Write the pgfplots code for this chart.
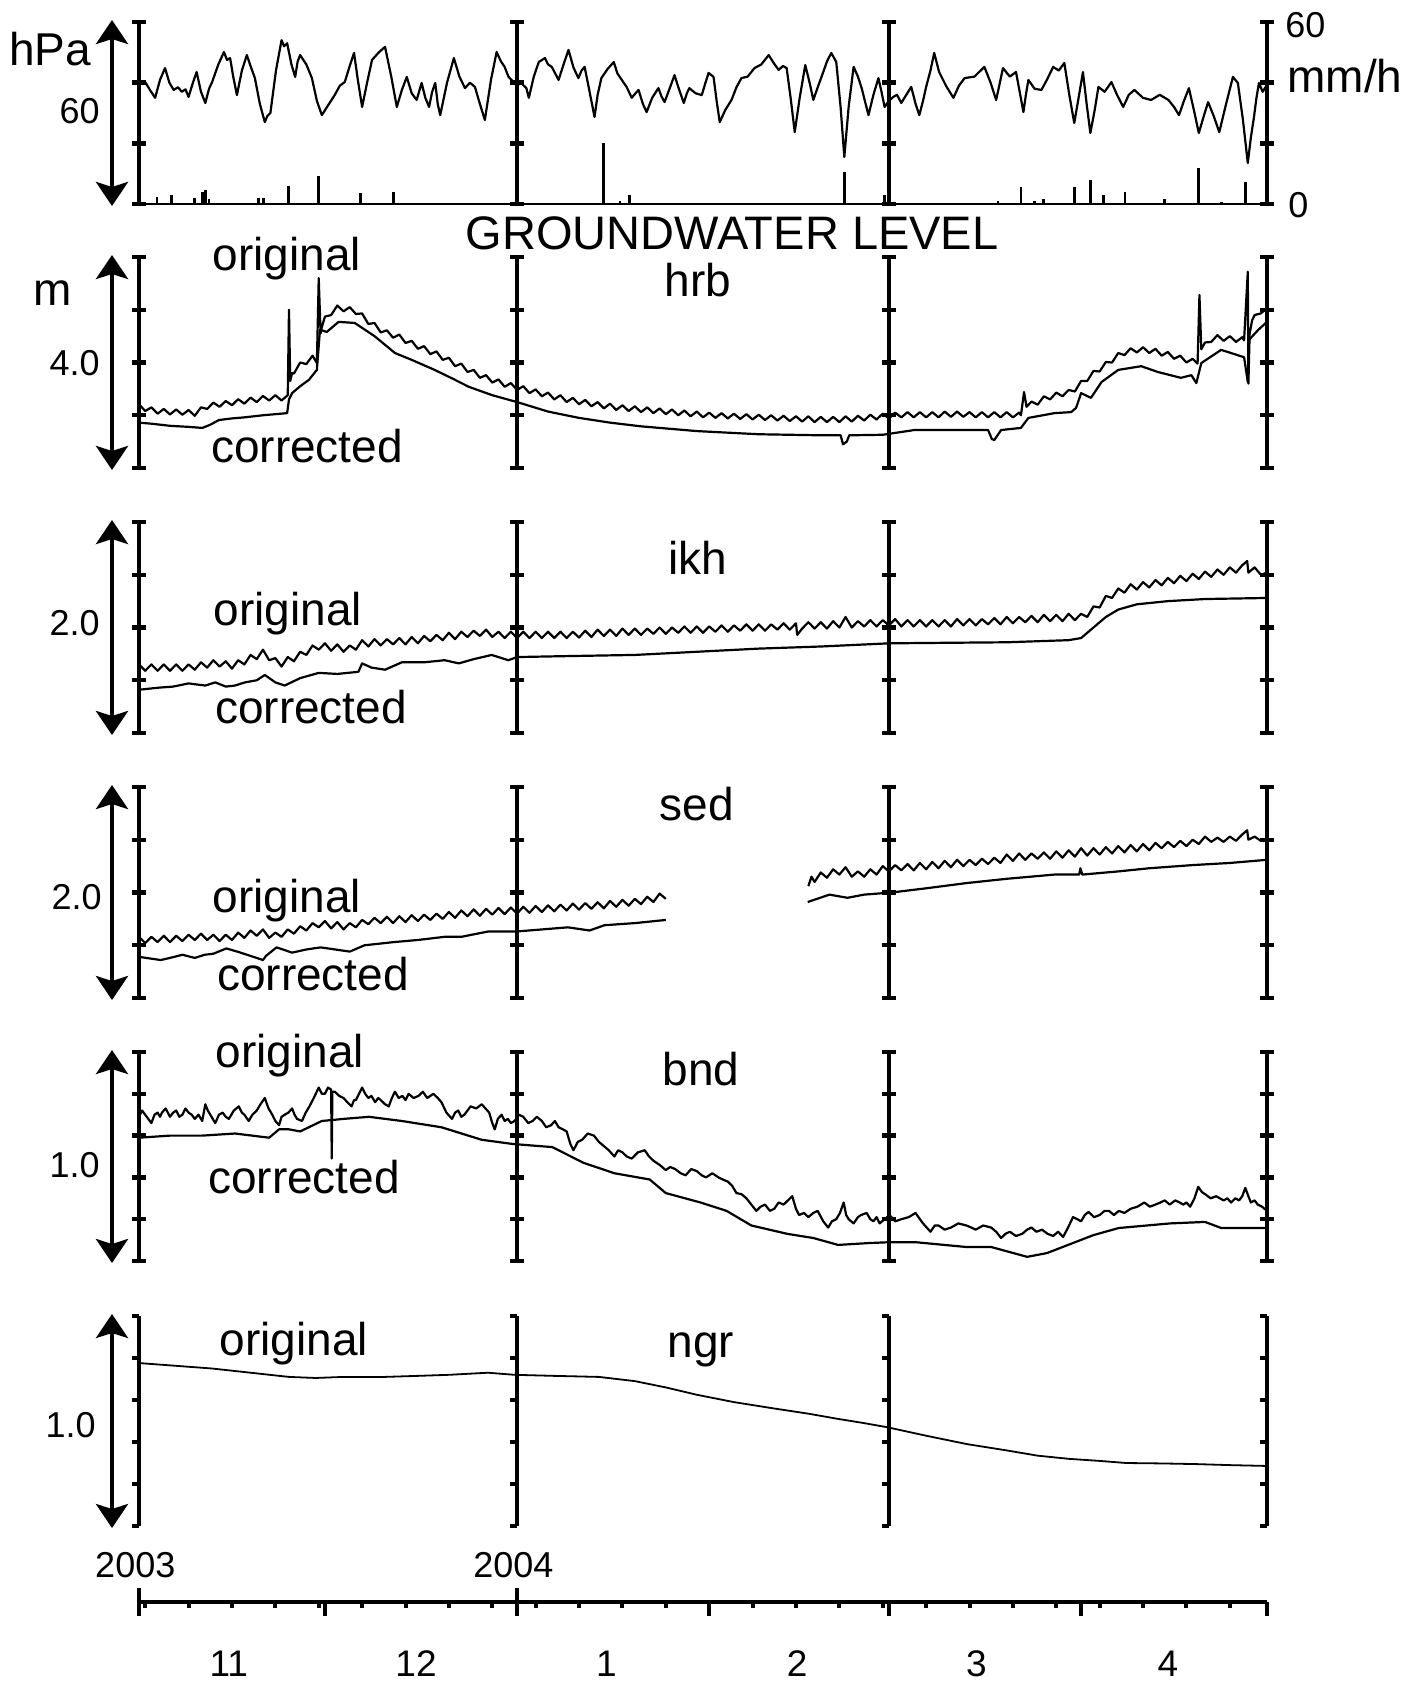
\documentclass[border=0pt]{standalone}
\usepackage{pgfplots}
\pgfplotsset{compat=1.18}
\usepackage{fontspec}
\setmainfont{Liberation Sans}
\usetikzlibrary{arrows.meta}
\newcommand\fA{\fontsize{23}{26}\selectfont}
\newcommand\fN{\fontsize{18}{20}\selectfont}
\newcommand\fT{\fontsize{23.5}{27}\selectfont}
\newcommand\fM{\fontsize{18.5}{21}\selectfont}
\tikzset{
  frm/.style={line width=2.2pt, black},
  ser/.style={line width=1.1pt, black, mark=none, line join=round},
  dbl/.style={line width=2pt, black, {Stealth[length=12pt,width=16pt,inset=2.5pt]}-{Stealth[length=12pt,width=16pt,inset=2.5pt]}},
}
\pgfplotsset{
  panel/.style={scale only axis, width=564pt, xmin=0, xmax=182, anchor=south west,
    axis x line=none, axis y line=box, ytick pos=both, yticklabels={},
    tick align=center, major tick length=7pt,
    axis line style={line width=2.2pt},
    every tick/.append style={line width=2.2pt, black},
    clip mode=individual},
}
\newcommand\midframes[3]{%
  \draw[frm] (axis cs:61,#1) -- (axis cs:61,#2);
  \draw[frm] (axis cs:121,#1) -- (axis cs:121,#2);
  \pgfplotsinvokeforeach{#3}{%
    \draw[frm] (axis cs:61,##1) ++(-3.5pt,0pt) -- ++(7pt,0pt);
    \draw[frm] (axis cs:121,##1) ++(-3.5pt,0pt) -- ++(7pt,0pt);
  }}
\newcommand\bracketframe[1]{%
  \draw[frm] (axis cs:#1,0) -- (axis cs:#1,1);
  \pgfplotsinvokeforeach{0,0.2,0.4,0.6,0.8,1}{%
    \draw[frm] (axis cs:#1,##1) -- ++(-3.5pt,0pt);
  }}
\newcommand\dblarrow{\draw[dbl] ([xshift=-13.5pt,yshift=-1pt]rel axis cs:0,0) -- ([xshift=-13.5pt,yshift=1pt]rel axis cs:0,1);}
\begin{document}
\begin{tikzpicture}
\path[use as bounding box] (0pt,0pt) rectangle (712pt,-841.5pt);

% ---------------- Panel 1: pressure and rainfall
\begin{axis}[panel, at={(69.5pt,-102pt)}, height=91pt, ymin=980, ymax=1040, ytick={980,1000,1020,1040}]
\addplot[ser] coordinates {(0,1021) (0.5,1019.5) (1,1020.2) (1.8,1017.5) (2.6,1015) (3.4,1021) (4.2,1024.8) (4.9,1020) (5.6,1017.6) (6.3,1018.5) (6.9,1017) (7.5,1017.8) (8,1015.3) (8.7,1020) (9.3,1023.5) (10,1017) (10.7,1013.3) (11.3,1018) (11.8,1020.2) (12.8,1026) (13.7,1030.1) (14.2,1027.5) (14.7,1028.1) (15.2,1022) (15.8,1015.9) (16.6,1024) (17.4,1029.1) (18,1025.5) (18.7,1021.5) (19.5,1013) (20.3,1007) (20.7,1009) (21.2,1010) (22.1,1024) (23,1034) (23.4,1032) (23.9,1033) (24.6,1026) (25.2,1021.9) (25.6,1027) (26,1029.1) (27,1026) (27.9,1021.5) (28.7,1014) (29.5,1009.3) (30.5,1012.5) (31.6,1016) (32.4,1019) (33.2,1020.2) (34,1025.5) (34.7,1029.8) (35.3,1021) (36,1012) (36.8,1020) (37.6,1027.5) (38.7,1030) (39.7,1031.8) (40.7,1022) (41.6,1012) (42.4,1017.5) (43.2,1021.9) (44,1016.5) (44.8,1014.3) (45.6,1019.9) (46.2,1015) (46.8,1012) (47.3,1017) (47.8,1019.9) (48.2,1013) (48.6,1009.3) (49.7,1020) (50.8,1028.1) (51.7,1022) (52.6,1018.2) (53.4,1020) (54.2,1018.6) (55,1013) (55.8,1007.7) (56.8,1021) (57.7,1030.1) (58.4,1027) (59,1025.2) (59.6,1022) (60.1,1020.9) (60.9,1019.2) (61.7,1019.8) (62.5,1018.2) (62.9,1015) (63.7,1022) (64.5,1026.8) (65.5,1028.1) (66,1026) (66.6,1025.2) (67.7,1020.9) (68.5,1026) (69.3,1030.8) (70.1,1025) (70.9,1021.5) (71.4,1024) (71.9,1025.2) (72.7,1017) (73.5,1008.7) (74,1016) (74.6,1021.5) (75.6,1024.5) (76.6,1026.8) (77.2,1023) (77.9,1020.9) (78.7,1018.5) (79.5,1015) (80.1,1016.5) (80.6,1017.6) (81.3,1013) (81.9,1010.3) (82.8,1015) (83.8,1018.2) (84.3,1015.5) (84.8,1013.6) (85.6,1018) (86.4,1022.5) (87.1,1018) (87.9,1013.3) (88.4,1016.5) (88.8,1018.2) (89.8,1016.5) (90.8,1015.9) (91.4,1020) (91.9,1023.2) (92.7,1021.9) (93.2,1014) (93.7,1007) (94.6,1011) (95.6,1014.3) (96.4,1018.5) (97.2,1021.5) (98.2,1022) (99.3,1024.8) (100.4,1026) (101.6,1029.1) (102.4,1026.5) (103.2,1024.2) (103.9,1025.5) (104.5,1024.8) (105.2,1014) (105.8,1003.7) (106.6,1015) (107.5,1025.8) (108.2,1020) (108.8,1014.3) (109.6,1019) (110.4,1023.5) (111,1027) (111.7,1029.8) (112.5,1026.8) (113.2,1012) (113.8,995.5) (114.5,1012) (115.3,1025.2) (116,1022) (116.6,1018.2) (117.7,1009.3) (118.5,1016) (119.3,1021.5) (119.8,1017) (120.3,1012) (121,1014) (121.7,1015.3) (122.3,1016) (123,1013.3) (123.8,1016) (124.6,1018.6) (125.3,1013) (125.9,1009.3) (126.5,1014) (127,1018.6) (127.7,1024) (128.3,1029.8) (129.1,1023.5) (130.2,1019) (131.4,1015) (132.3,1019) (133.2,1021.5) (134.8,1022) (136.4,1025.2) (137.4,1020) (138.3,1014.3) (138.9,1020) (139.4,1024.8) (140.5,1022) (141.5,1023.5) (142.1,1017) (142.7,1010.3) (143.1,1016) (143.5,1020.9) (144.5,1018) (145.6,1017.6) (146.5,1021) (147.5,1025.2) (148.4,1024) (149.3,1026.5) (150.1,1016) (150.9,1006.7) (151.6,1015) (152.3,1023.5) (152.9,1013) (153.5,1003.4) (154.2,1011) (154.8,1018.6) (155.8,1017) (156.9,1020.2) (157.8,1016) (158.8,1012) (159.7,1016) (160.6,1017.6) (162,1015) (163.3,1014.3) (164.7,1016) (166.1,1014.3) (167,1012) (167.8,1009.3) (168.6,1014) (169.4,1018.2) (170.2,1011) (171,1003.4) (171.8,1009) (172.5,1013.6) (173.4,1009) (174.3,1003.7) (175.4,1013) (176.5,1021.9) (177.3,1019.9) (178.1,1008) (178.9,993.5) (179.4,1002) (179.9,1008.7) (180.3,1015) (180.7,1019.9) (181.3,1017) (181.8,1018.6)};
\midframes{980}{1040}{980,1000,1020,1040}
\dblarrow
\end{axis}
\begin{axis}[scale only axis, width=564pt, height=91pt, at={(69.5pt,-102pt)}, anchor=south west,
  xmin=0, xmax=182, ymin=0, ymax=60, axis lines=none, clip=false]
\addplot[black, line width=0.9pt, mark=none] coordinates {(0,0) (182,0)};
\addplot[ycomb, black, line width=1.4pt, mark=none] coordinates {(2.9,2.3) (5.3,3) (8.9,2) (10.2,4) (10.7,4.6) (11.3,1.5) (19.3,2) (20.1,2) (24.1,6) (29,9.2) (35.7,3.6) (41.1,4) (74.9,20.1) (77.6,1) (79.2,3) (113.8,10.5) (120.3,3) (138.6,1) (142.3,5.6) (144.5,1) (146,1.5) (150.9,5.6) (153.5,7.9) (155.6,3) (159.1,4) (165.4,1.5) (171,11.9) (174.6,0.5) (178.5,7.3)};
\end{axis}

% ---------------- Panel 2: hrb
\begin{axis}[panel, at={(69.5pt,-234pt)}, height=105.5pt, ymin=0, ymax=4, ytick={0,1,2,3,4}]
\addplot[ser] coordinates {(0,1.21) (1,1.08) (2,1.15) (3,1.03) (4,1.12) (5,1.015) (6,1.11) (7,1.01) (8,1.10) (9,0.99) (10,1.15) (11,1.12) (12,1.24) (13,1.16) (14,1.27) (15,1.19) (16,1.305) (17,1.22) (18,1.335) (19,1.25) (20,1.365) (21,1.28) (22,1.38) (23,1.28) (24,1.38) (24.2,3.0) (24.4,1.65) (24.7,1.80) (25,1.79) (26,2.00) (27,1.97) (28,2.13) (28.7,1.99) (29,3.6) (29.3,2.55) (29.5,2.67) (30,2.87) (31,2.90) (32,3.08) (33,2.97) (34,3.05) (35,2.92) (36,2.93) (37,2.73) (38,2.75) (39,2.57) (40,2.61) (41,2.47) (42,2.53) (43,2.37) (44,2.41) (45,2.26) (46,2.31) (47,2.16) (48,2.21) (49,2.05) (50,2.09) (51,1.93) (52,1.98) (53,1.82) (54,1.86) (55,1.71) (56,1.76) (57,1.62) (58,1.68) (59,1.54) (60,1.61) (61,1.48) (62,1.55) (63,1.42) (64,1.49) (65,1.36) (66,1.43) (67,1.30) (68,1.38) (69,1.25) (70,1.33) (71,1.21) (72,1.29) (73,1.17) (74,1.25) (75,1.13) (76,1.22) (77,1.10) (78,1.19) (79,1.08) (80,1.17) (81,1.06) (82,1.15) (83,1.04) (84,1.13) (85,1.02) (86,1.11) (87,1.00) (88,1.09) (89,0.98) (90,1.07) (91,0.96) (92,1.05) (93,0.95) (94,1.04) (95,0.94) (96,1.03) (97,0.93) (98,1.02) (99,0.92) (100,1.01) (101,0.91) (102,1.00) (103,0.90) (104,0.99) (105,0.89) (106,0.98) (107,0.88) (108,0.98) (109,0.87) (110,0.97) (111,0.87) (112,0.97) (113,0.87) (114,0.98) (115,0.88) (116,0.99) (117,0.90) (118,1.01) (119,0.92) (120,1.03) (121,0.94) (122,1.05) (123,0.96) (124,1.06) (125,0.96) (126,1.06) (127,0.96) (128,1.06) (129,0.96) (130,1.07) (131,0.97) (132,1.07) (133,0.97) (134,1.06) (135,0.96) (136,1.06) (137,0.96) (138,1.06) (139,0.96) (140,1.06) (141,0.96) (142,1.05) (142.3,1.0) (142.8,1.44) (143.2,1.16) (144,1.26) (145,1.20) (146,1.36) (147,1.30) (148,1.43) (149,1.36) (150,1.48) (151,1.45) (152,1.65) (153,1.65) (154,1.84) (155,1.83) (156,2.01) (157,2.00) (158,2.18) (159,2.14) (160,2.27) (161,2.19) (162,2.29) (163,2.18) (164,2.26) (165,2.13) (166,2.20) (167,2.07) (168,2.13) (169,2.00) (170,2.07) (170.8,1.98) (171.1,3.28) (171.4,2.25) (172,2.38) (173,2.39) (174,2.52) (175,2.41) (176,2.50) (177,2.39) (178,2.48) (178.3,2.42) (178.9,3.72) (179.0,1.60) (179.2,2.55) (179.6,2.80) (180,2.90) (181,2.93) (182,3.03)};
\addplot[ser] coordinates {(0,0.86) (2,0.84) (5,0.80) (8,0.78) (10.2,0.76) (11.5,0.82) (12.9,0.91) (15,0.94) (17,0.96) (20,1.0) (23.9,1.04) (24.2,1.30) (24.7,1.42) (26,1.55) (27.4,1.67) (28.7,1.86) (29.2,2.62) (30.3,2.58) (32.2,2.77) (34.8,2.75) (38,2.50) (41.3,2.18) (44,2.05) (47.7,1.86) (50.5,1.70) (53.2,1.54) (57,1.38) (61,1.25) (66,1.07) (71,0.95) (76,0.86) (81,0.79) (86,0.74) (90,0.70) (95,0.67) (100,0.64) (105,0.63) (110,0.62) (113.2,0.62) (113.6,0.45) (114.2,0.50) (114.6,0.62) (120,0.63) (125.1,0.72) (137,0.72) (137.6,0.55) (138,0.53) (139.1,0.72) (142.3,0.76) (143.5,0.95) (147.7,1.04) (150.4,1.06) (151.2,1.14) (152,1.42) (153.6,1.33) (155.3,1.63) (158,1.86) (161.7,1.93) (164.4,1.82) (168.1,1.71) (169.8,1.76) (170.6,1.61) (171.4,1.99) (174.6,2.24) (178.3,2.10) (178.9,1.63) (179.1,2.43) (180.6,2.62) (182,2.77)};
\midframes{0}{4}{0,1,2,3,4}
\dblarrow
\end{axis}

% ---------------- Panel 3: ikh
\begin{axis}[panel, at={(69.5pt,-366.5pt)}, height=105.5pt, ymin=0, ymax=2, ytick={0,0.5,1,1.5,2}]
\addplot[ser] coordinates {(0,0.65) (1,0.59) (2,0.65) (3,0.59) (4,0.65) (5,0.59) (6,0.65) (7,0.59) (8,0.65) (9,0.60) (10,0.67) (11,0.62) (12,0.69) (13,0.63) (14,0.68) (15,0.61) (16,0.69) (17,0.65) (18,0.74) (19,0.70) (20,0.79) (21,0.69) (22,0.71) (23,0.63) (24,0.72) (25,0.68) (26,0.77) (27,0.74) (28,0.83) (29,0.79) (30,0.85) (31,0.78) (32,0.84) (33,0.77) (34,0.83) (35,0.79) (36,0.88) (37,0.82) (38,0.89) (39,0.83) (40,0.89) (41,0.84) (42,0.90) (43,0.84) (44,0.91) (45,0.85) (46,0.92) (47,0.87) (48,0.93) (49,0.88) (50,0.95) (51,0.89) (52,0.96) (53,0.91) (54,0.97) (55,0.92) (56,0.98) (57,0.91) (58,0.96) (59,0.90) (60,0.96) (61,0.90) (62,0.96) (63,0.90) (64,0.96) (65,0.90) (66,0.96) (67,0.90) (68,0.96) (69,0.90) (70,0.96) (71,0.905) (72,0.97) (73,0.91) (74,0.98) (75,0.92) (76,0.98) (77,0.92) (78,0.99) (79,0.93) (80,0.99) (81,0.93) (82,0.99) (83,0.94) (84,1.00) (85,0.94) (86,1.00) (87,0.95) (88,1.01) (89,0.95) (90,1.01) (91,0.95) (92,1.01) (93,0.96) (94,1.02) (95,0.96) (96,1.02) (97,0.97) (98,1.03) (99,0.97) (100,1.03) (101,0.97) (102,1.03) (103,0.98) (104,1.04) (105,0.98) (106,1.04) (106.2,0.93) (107,0.99) (108,1.05) (109,0.99) (110,1.05) (111,0.99) (112,1.06) (113,1.00) (114,1.10) (115,1.00) (116,1.06) (117,1.01) (118,1.07) (119,1.01) (120,1.07) (121,1.02) (122,1.08) (123,1.01) (124,1.07) (125,1.01) (126,1.07) (127,1.01) (128,1.07) (129,1.01) (130,1.07) (131,1.01) (132,1.08) (133,1.02) (134,1.08) (135,1.02) (136,1.08) (137,1.03) (138,1.09) (139,1.03) (140,1.10) (141,1.04) (142,1.10) (143,1.05) (144,1.11) (145,1.05) (146,1.12) (147,1.06) (148,1.12) (149,1.06) (150,1.13) (151,1.07) (152,1.13) (153,1.10) (154,1.20) (155,1.19) (156,1.30) (157,1.28) (158,1.37) (159,1.33) (160,1.41) (161,1.36) (162,1.43) (163,1.38) (164,1.45) (165,1.40) (166,1.47) (167,1.42) (168,1.49) (169,1.44) (170,1.51) (171,1.46) (172,1.53) (173,1.48) (174,1.55) (175,1.50) (176,1.57) (177,1.52) (178,1.59) (178.8,1.63) (179,1.52) (180,1.57) (181,1.50) (182,1.52)};
\addplot[ser] coordinates {(0,0.41) (3.2,0.43) (5.5,0.44) (8,0.47) (10.7,0.45) (12.3,0.48) (14,0.44) (15.5,0.45) (17.1,0.48) (19,0.50) (20.3,0.55) (22,0.48) (23.5,0.45) (26,0.52) (29,0.57) (32,0.56) (35.4,0.58) (36,0.66) (37.5,0.62) (39.7,0.60) (42.4,0.67) (46,0.67) (49.3,0.69) (51.6,0.66) (54,0.70) (56.9,0.74) (59.6,0.69) (61,0.72) (70,0.73) (80,0.74) (90,0.77) (100,0.80) (110,0.82) (121,0.85) (130,0.855) (140,0.86) (150,0.88) (152,0.90) (154,1.0) (156,1.10) (158,1.17) (161,1.22) (166,1.25) (172,1.27) (182,1.28)};
\midframes{0}{2}{0,0.5,1,1.5,2}
\dblarrow
\end{axis}

% ---------------- Panel 4: sed
\begin{axis}[panel, at={(69.5pt,-499pt)}, height=105.5pt, ymin=0, ymax=2, ytick={0,0.5,1,1.5,2}]
\addplot[ser] coordinates {(0,0.58) (1,0.52) (2,0.58) (3,0.53) (4,0.59) (5,0.53) (6,0.59) (7,0.54) (8,0.60) (9,0.55) (10,0.61) (11,0.55) (12,0.60) (13,0.54) (14,0.60) (15,0.55) (16,0.62) (17,0.57) (18,0.64) (19,0.59) (20,0.65) (21,0.57) (22,0.62) (23,0.58) (24,0.65) (25,0.61) (26,0.68) (27,0.64) (28,0.71) (29,0.67) (30,0.73) (31,0.66) (32,0.72) (33,0.65) (34,0.71) (35,0.67) (36,0.74) (37,0.70) (38,0.76) (39,0.71) (40,0.77) (41,0.71) (42,0.775) (43,0.72) (44,0.785) (45,0.73) (46,0.79) (47,0.74) (48,0.80) (49,0.75) (50,0.815) (51,0.76) (52,0.83) (53,0.775) (54,0.84) (55,0.78) (56,0.845) (57,0.79) (58,0.853) (59,0.795) (60,0.858) (61,0.80) (62,0.865) (63,0.808) (64,0.872) (65,0.815) (66,0.878) (67,0.822) (68,0.885) (69,0.83) (70,0.895) (71,0.838) (72,0.90) (73,0.845) (74,0.908) (75,0.85) (76,0.92) (77,0.865) (78,0.93) (79,0.875) (80,0.94) (81,0.89) (82,0.96) (83,0.91) (84,0.99) (85,0.94)};
\addplot[ser] coordinates {(108,1.06) (108.5,1.15) (109,1.10) (110,1.19) (111,1.14) (112,1.22) (113,1.17) (114,1.24) (115,1.15) (116,1.20) (117,1.15) (118,1.22) (119,1.17) (120,1.25) (121,1.20) (122,1.26) (123,1.21) (124,1.27) (125,1.21) (126,1.28) (127,1.22) (128,1.29) (129,1.23) (130,1.30) (131,1.24) (132,1.31) (133,1.25) (134,1.31) (135,1.26) (136,1.32) (137,1.27) (138,1.33) (139,1.28) (140,1.36) (141,1.30) (142,1.37) (143,1.31) (144,1.37) (145,1.32) (146,1.38) (147,1.32) (148,1.39) (149,1.33) (150,1.40) (151,1.34) (152,1.42) (153,1.35) (154,1.42) (155,1.36) (156,1.43) (157,1.37) (158,1.44) (159,1.38) (160,1.45) (161,1.39) (162,1.46) (163,1.40) (164,1.47) (165,1.42) (166,1.48) (167,1.43) (168,1.49) (169,1.44) (170,1.50) (171,1.46) (172,1.53) (173,1.48) (174,1.52) (175,1.48) (176,1.53) (177,1.49) (178,1.55) (178.8,1.59) (179,1.50) (180,1.53) (181,1.49) (182,1.50)};
\addplot[ser] coordinates {(0,0.39) (3.5,0.36) (5,0.38) (7,0.41) (9,0.38) (10.6,0.41) (12,0.42) (14.1,0.47) (16.4,0.43) (20,0.36) (20.5,0.40) (22.2,0.48) (24.7,0.43) (27,0.46) (29.3,0.48) (34,0.44) (36.4,0.50) (41.1,0.53) (45,0.55) (49.3,0.58) (52,0.58) (56.3,0.63) (60.8,0.63) (65,0.65) (69.2,0.67) (72.7,0.64) (75.1,0.69) (80,0.71) (85,0.74)};
\addplot[ser] coordinates {(107.9,0.91) (111.4,0.98) (114.3,0.95) (117,0.98) (121.4,1.00) (127,1.04) (133.6,1.09) (140,1.13) (147.7,1.17) (151.7,1.17) (151.9,1.23) (152.2,1.17) (158,1.20) (163,1.23) (170,1.26) (176,1.28) (182,1.31)};
\midframes{0}{2}{0,0.5,1,1.5,2}
\dblarrow
\end{axis}

% ---------------- Panel 5: bnd
\begin{axis}[panel, at={(69.5pt,-630.5pt)}, height=104.5pt, ymin=0, ymax=1, ytick={0,0.2,0.4,0.6,0.8,1}]
\addplot[ser] coordinates {(0,0.69) (0.5,0.72) (1,0.70) (1.5,0.68) (2,0.66) (2.5,0.70) (3,0.71) (3.4,0.69) (3.7,0.71) (4.3,0.73) (5,0.69) (5.5,0.71) (6,0.72) (6.5,0.69) (7,0.70) (7.5,0.73) (8,0.71) (8.5,0.70) (9,0.68) (9.6,0.70) (10.2,0.67) (10.7,0.75) (11.1,0.72) (11.5,0.70) (11.9,0.68) (12.3,0.66) (12.9,0.70) (13.5,0.71) (14,0.69) (14.5,0.68) (15.3,0.72) (16.1,0.74) (16.6,0.71) (17,0.70) (17.7,0.67) (18.3,0.70) (19,0.72) (19.6,0.75) (20.3,0.78) (20.9,0.73) (21.5,0.70) (22,0.67) (22.6,0.65) (23,0.69) (23.5,0.70) (24.1,0.71) (24.7,0.73) (25.1,0.70) (25.5,0.68) (26.3,0.67) (26.9,0.71) (27.5,0.74) (28.2,0.78) (29,0.83) (29.5,0.80) (30,0.80) (30.5,0.83) (31,0.82) (31.1,0.49) (31.2,0.81) (31.6,0.81) (32.3,0.79) (33,0.78) (33.6,0.76) (34.3,0.74) (34.7,0.77) (35,0.77) (35.5,0.80) (36,0.83) (36.5,0.80) (37,0.78) (37.5,0.79) (38.1,0.76) (38.6,0.78) (39,0.77) (39.7,0.75) (40.3,0.74) (40.8,0.78) (41.3,0.81) (41.9,0.78) (42.5,0.79) (43,0.77) (43.5,0.80) (44.3,0.78) (45.1,0.79) (45.8,0.81) (46.5,0.78) (47,0.79) (47.5,0.80) (48.2,0.78) (48.8,0.76) (49.6,0.71) (50.5,0.68) (51,0.71) (51.5,0.72) (52,0.69) (52.5,0.70) (53,0.72) (53.5,0.74) (54.4,0.73) (55.3,0.75) (55.9,0.73) (56.5,0.71) (57,0.66) (57.4,0.63) (57.9,0.68) (58.5,0.70) (59,0.67) (59.5,0.68) (60,0.66) (60.6,0.67) (61.3,0.70) (62,0.69) (62.8,0.66) (63.5,0.67) (64.2,0.69) (65,0.67) (65.7,0.64) (66.5,0.65) (67.1,0.67) (67.7,0.64) (68.4,0.63) (69,0.62) (69.6,0.56) (70.1,0.53) (70.8,0.57) (71.5,0.58) (72.4,0.61) (73.4,0.60) (74.2,0.57) (75,0.55) (75.8,0.53) (76.7,0.50) (77.3,0.53) (78,0.52) (78.7,0.50) (79.5,0.49) (80.5,0.52) (81.6,0.53) (82.3,0.50) (83,0.48) (84,0.46) (85,0.435) (85.7,0.45) (86.5,0.44) (87.4,0.42) (88.2,0.41) (89.1,0.44) (90,0.43) (90.8,0.41) (91.5,0.40) (92.5,0.42) (93.5,0.40) (94.2,0.39) (95,0.38) (95.7,0.36) (96.4,0.325) (97.2,0.32) (98,0.30) (98.8,0.27) (99.6,0.24) (100.3,0.26) (101,0.27) (101.8,0.24) (102.5,0.25) (103.2,0.28) (104,0.27) (104.7,0.29) (105.4,0.31) (106,0.25) (106.5,0.22) (107.3,0.23) (108,0.21) (108.8,0.23) (109.5,0.24) (110.4,0.19) (111.2,0.16) (111.8,0.19) (112.5,0.20) (113.1,0.23) (113.7,0.28) (114.1,0.22) (114.5,0.20) (115.3,0.18) (116,0.21) (116.5,0.22) (117.4,0.23) (118,0.20) (118.5,0.19) (119,0.21) (119.5,0.18) (120.3,0.20) (121.1,0.22) (122,0.19) (123,0.20) (124.2,0.21) (125.3,0.23) (126,0.20) (126.5,0.18) (127.1,0.16) (127.7,0.14) (128.4,0.17) (129,0.17) (130,0.15) (131,0.16) (132.2,0.18) (133.5,0.17) (134.3,0.16) (135,0.15) (136.2,0.17) (137.5,0.16) (138.3,0.14) (139.1,0.11) (139.8,0.13) (140.5,0.14) (141.5,0.12) (142.5,0.13) (143.3,0.15) (144,0.16) (144.8,0.14) (145.7,0.15) (146.6,0.13) (147.5,0.12) (148.3,0.14) (149.1,0.115) (149.9,0.16) (150.7,0.21) (151.4,0.20) (152,0.19) (152.6,0.22) (153.2,0.235) (154.1,0.21) (155,0.22) (155.8,0.24) (156.5,0.24) (157.3,0.22) (158.1,0.24) (159,0.23) (160,0.25) (161.1,0.26) (162.2,0.28) (163.1,0.26) (164,0.27) (164.8,0.28) (165.5,0.29) (166.3,0.27) (167.2,0.29) (167.9,0.28) (168.5,0.27) (169,0.28) (169.6,0.26) (170.3,0.30) (170.9,0.355) (171.5,0.33) (172,0.32) (172.9,0.30) (173.8,0.31) (174.4,0.30) (175,0.29) (175.6,0.30) (176.2,0.28) (176.9,0.30) (177.5,0.29) (178,0.31) (178.5,0.35) (179,0.31) (179.4,0.28) (180,0.29) (180.5,0.27) (181.2,0.26) (182,0.24)};
\addplot[ser] coordinates {(0,0.59) (5,0.60) (10.2,0.60) (15.5,0.61) (21,0.59) (22.6,0.63) (24.2,0.63) (26,0.62) (29.5,0.67) (33,0.68) (37.1,0.69) (42.4,0.67) (48.8,0.64) (55.3,0.58) (60.3,0.56) (66.7,0.545) (71.7,0.47) (76.7,0.42) (82.4,0.39) (85,0.325) (90.6,0.28) (94.8,0.24) (98.8,0.17) (104.6,0.13) (108.8,0.11) (112.8,0.077) (117.8,0.086) (121.1,0.09) (125.3,0.09) (133.5,0.067) (137.5,0.067) (143.3,0.02) (146.5,0.038) (149.9,0.077) (154,0.124) (158.1,0.158) (166.4,0.18) (172,0.187) (174.6,0.158) (182,0.158)};
\midframes{0}{1}{0,0.2,0.4,0.6,0.8,1}
\dblarrow
\end{axis}

% ---------------- Panel 6: ngr
\begin{axis}[scale only axis, width=564pt, height=105pt, at={(69.5pt,-763pt)}, anchor=south west,
  xmin=0, xmax=182, ymin=0, ymax=1, axis x line=none, axis y line*=left,
  ytick={0,0.2,0.4,0.6,0.8,1}, yticklabels={}, tick align=outside, major tick length=3.5pt,
  axis line style={line width=2.2pt}, every tick/.append style={line width=2.2pt, black},
  clip mode=individual]
\addplot[ser, line width=0.9pt] coordinates {(0,0.776) (5,0.765) (11.8,0.75) (18,0.73) (24.2,0.71) (28.5,0.705) (33,0.71) (39.6,0.71) (45,0.715) (50,0.72) (56.3,0.73) (60.6,0.72) (67,0.715) (74.2,0.71) (80,0.69) (85,0.66) (90,0.625) (96,0.59) (102.4,0.56) (108,0.535) (112.8,0.51) (117,0.49) (120.8,0.47) (127,0.43) (133.6,0.39) (140,0.36) (145,0.335) (150,0.32) (155,0.31) (159.3,0.30) (165,0.298) (170.4,0.295) (176,0.29) (182,0.286)};
\bracketframe{61}
\bracketframe{121}
\bracketframe{182}
\dblarrow
\end{axis}

% ---------------- time axis
\begin{axis}[scale only axis, width=564pt, height=10pt, at={(69.5pt,-801pt)}, anchor=south west,
  xmin=0, xmax=182, ymin=0, ymax=1, axis y line=none, axis x line*=bottom,
  xtick={30,92,121,152,182}, xticklabels={}, tick align=outside, major tick length=7pt,
  minor xtick={1,8,15,22,29,36,43,50,57,64,71,78,85,99,106,113,120,127,134,141,148,155,162,169,176},
  minor tick length=3pt,
  extra x ticks={0,61}, extra x tick labels={}, extra x tick style={tick align=center, major tick length=14pt},
  axis line style={line width=2.2pt}, every tick/.append style={line width=2pt, black}, clip=false]
\node[anchor=base, inner sep=0pt, font=\fN] at (axis cs:-0.6,0) [yshift=12.5pt] {2003};
\node[anchor=base, inner sep=0pt, font=\fN] at (axis cs:60.4,0) [yshift=12.5pt] {2004};
\node[anchor=base, inner sep=0pt, font=\fM] at (axis cs:14.5,0) [yshift=-37pt] {11};
\node[anchor=base, inner sep=0pt, font=\fM] at (axis cs:44.7,0) [yshift=-37pt] {12};
\node[anchor=base, inner sep=0pt, font=\fM] at (axis cs:75.4,0) [yshift=-37pt] {1};
\node[anchor=base, inner sep=0pt, font=\fM] at (axis cs:106.2,0) [yshift=-37pt] {2};
\node[anchor=base, inner sep=0pt, font=\fM] at (axis cs:135.1,0) [yshift=-37pt] {3};
\node[anchor=base, inner sep=0pt, font=\fM] at (axis cs:166,0) [yshift=-37pt] {4};
\end{axis}

% ---------------- labels
\begin{scope}[x=0.5pt, y=-0.5pt, every node/.style={inner sep=0pt}]
\node[anchor=base, font=\fA] at (50,65) {hPa};
\node[anchor=base east, font=\fN] at (100,123) {60};
\node[anchor=base west, font=\fN] at (1285,37) {60};
\node[anchor=base west, font=\fA] at (1287,92) {mm/h};
\node[anchor=base west, font=\fN] at (1288,217) {0};
\node[anchor=base, font=\fT] at (732,249) {GROUNDWATER LEVEL};
\node[anchor=base, font=\fA] at (53,305) {m};
\node[anchor=base east, font=\fN] at (100,375) {4.0};
\node[anchor=base, font=\fA] at (287,270) {original};
\node[anchor=base, font=\fA] at (307,462) {corrected};
\node[anchor=base, font=\fA] at (698,296) {hrb};
\node[anchor=base, font=\fA] at (698,574) {ikh};
\node[anchor=base, font=\fA] at (288,625) {original};
\node[anchor=base, font=\fA] at (311,723) {corrected};
\node[anchor=base east, font=\fN] at (100,635) {2.0};
\node[anchor=base, font=\fA] at (697,820) {sed};
\node[anchor=base, font=\fA] at (287,912) {original};
\node[anchor=base, font=\fA] at (313,990) {corrected};
\node[anchor=base east, font=\fN] at (102,909) {2.0};
\node[anchor=base, font=\fA] at (701,1085) {bnd};
\node[anchor=base, font=\fA] at (290,1067) {original};
\node[anchor=base, font=\fA] at (304,1193) {corrected};
\node[anchor=base east, font=\fN] at (100,1177) {1.0};
\node[anchor=base, font=\fA] at (701,1357) {ngr};
\node[anchor=base, font=\fA] at (294,1355) {original};
\node[anchor=base east, font=\fN] at (96,1437) {1.0};
\end{scope}
\end{tikzpicture}
\end{document}
